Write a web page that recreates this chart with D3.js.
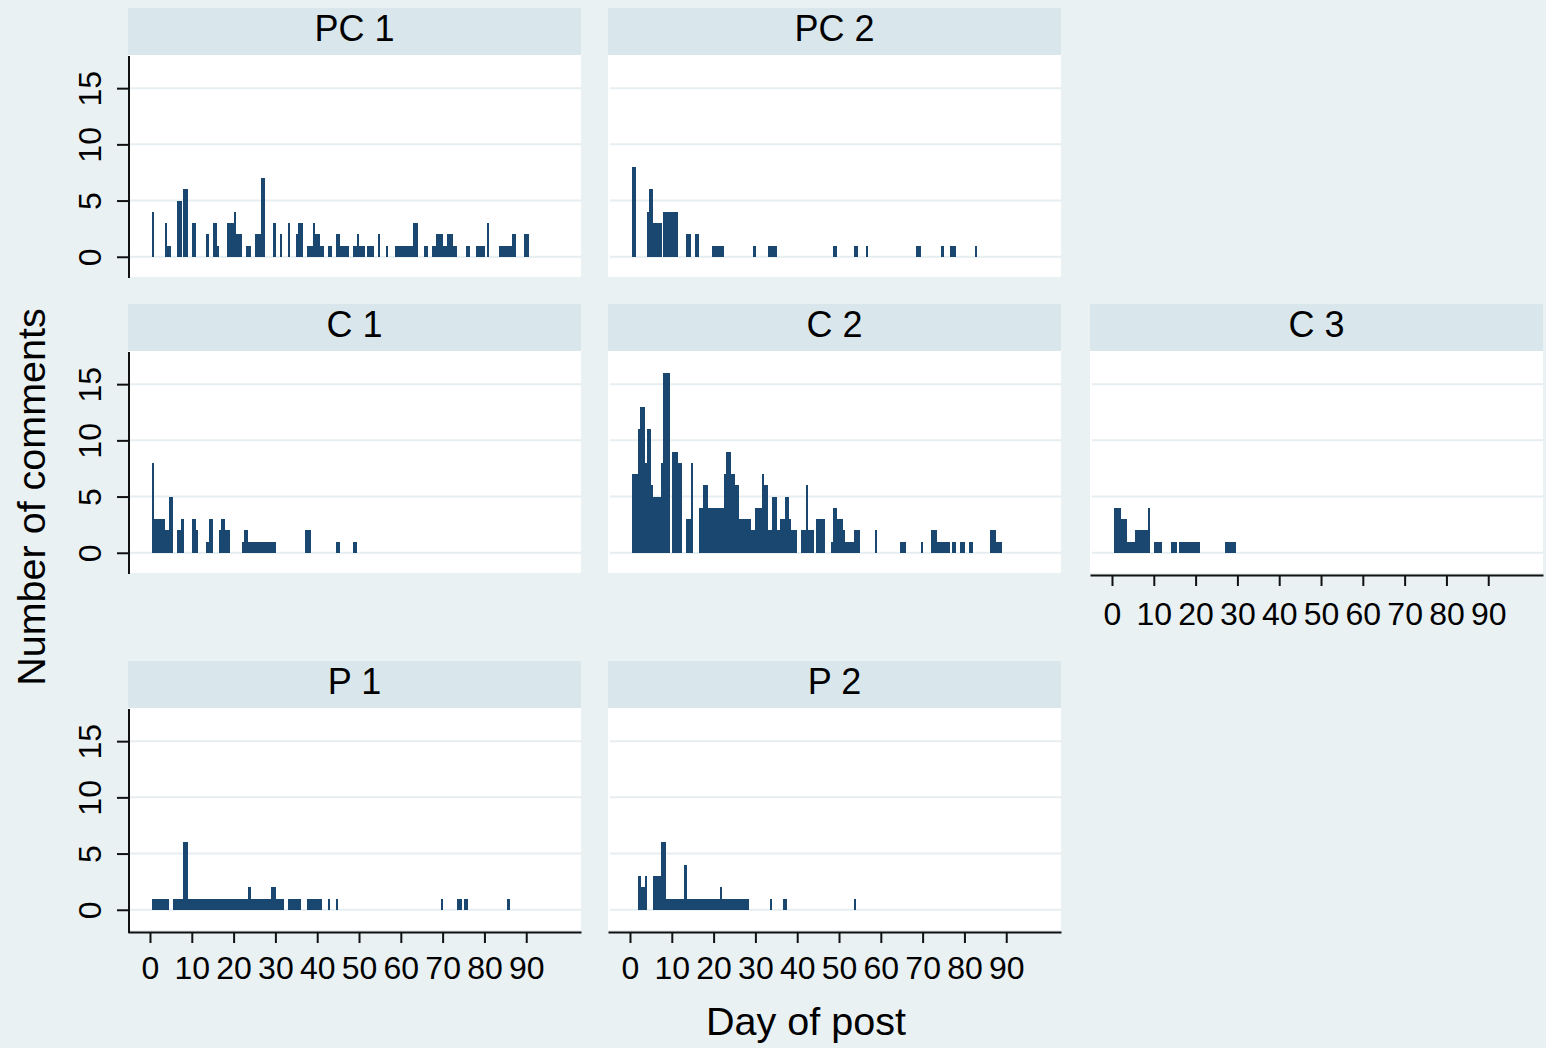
<!DOCTYPE html>
<html><head><meta charset="utf-8">
<script src="https://cdn.jsdelivr.net/npm/d3@7"></script>
<style>
html,body{margin:0;padding:0;background:#E9F1F3;}
svg{display:block;font-family:"Liberation Sans",Arial,sans-serif;}
</style></head><body>
<svg id="chart" width="1546" height="1048"></svg>
<script>
// ---------- data (half-day bins: start day, number of comments) ----------
const panelTitles = ["PC 1", "PC 2", "C 1", "C 2", "C 3", "P 1", "P 2"];
const xTickValues = [0, 10, 20, 30, 40, 50, 60, 70, 80, 90];
const yTickValues = [0, 5, 10, 15];
const xTitle = "Day of post";
const yTitle = "Number of comments";

const pc1Days = [0.5, 3.5, 4, 4.5, 6.5, 7, 8, 8.5, 10, 10.5, 13.5, 15, 15.5, 16,
  18.5, 19, 19.5, 20, 20.5, 21, 21.5, 23, 23.5, 25, 25.5, 26, 26.5, 27, 29.5, 31, 33,
  35, 35.5, 36, 37.5, 38, 38.5, 39, 39.5, 40, 40.5, 41, 42.5, 43, 44.5, 45, 45.5, 46, 46.5, 47,
  48.5, 49, 49.5, 50, 50.5, 51, 52, 52.5, 53, 54.5, 56.5,
  58.5, 59, 59.5, 60, 60.5, 61, 61.5, 62, 62.5, 63, 63.5, 65.5, 66,
  67.5, 68, 68.5, 69, 69.5, 70, 70.5, 71, 71.5, 72, 72.5, 73, 75.5, 76,
  78, 78.5, 79, 79.5, 80.5, 83.5, 84, 84.5, 85, 85.5, 86, 86.5, 87, 89.5, 90];
const pc1Counts = [4, 3, 1, 1, 5, 5, 6, 6, 3, 3, 2, 3, 3, 1,
  3, 3, 3, 4, 2, 2, 2, 1, 1, 2, 2, 2, 7, 7, 3, 2, 3,
  2, 3, 3, 1, 1, 1, 3, 2, 2, 1, 1, 1, 1, 2, 2, 1, 1, 1, 1,
  1, 1, 2, 1, 1, 1, 1, 1, 1, 2, 1,
  1, 1, 1, 1, 1, 1, 1, 1, 1, 3, 3, 1, 1,
  1, 1, 2, 2, 2, 1, 1, 2, 2, 2, 1, 1, 1, 1,
  1, 1, 1, 1, 3, 1, 1, 1, 1, 1, 1, 2, 2, 2, 2];

const pc2Days = [0.5, 1, 4, 4.5, 5, 5.5, 6, 6.5, 7, 8, 8.5, 9, 9.5, 10, 10.5, 11,
  13.5, 14, 15.5, 16, 19.5, 20, 20.5, 21, 21.5, 22, 29.5, 33, 33.5, 34, 34.5,
  48.5, 49, 53.5, 54, 56.5, 68.5, 69, 74.5, 76.5, 77, 77.5, 82.5];
const pc2Counts = [8, 8, 4, 6, 6, 3, 3, 3, 3, 4, 4, 4, 4, 4, 4, 4,
  2, 2, 2, 2, 1, 1, 1, 1, 1, 1, 1, 1, 1, 1, 1,
  1, 1, 1, 1, 1, 1, 1, 1, 1, 1, 1, 1];

const c1Days = [0.5, 1, 1.5, 2, 2.5, 3, 3.5, 4, 4.5, 5, 6.5, 7, 7.5, 10, 10.5, 11,
  13.5, 14, 14.5, 16.5, 17, 17.5, 18, 18.5, 22, 22.5, 23,
  23.5, 24, 24.5, 25, 25.5, 26, 26.5, 27, 27.5, 28, 28.5, 29, 29.5,
  37, 37.5, 38, 44.5, 45, 48.5, 49];
const c1Counts = [8, 3, 3, 3, 3, 3, 2, 2, 5, 5, 2, 2, 3, 3, 3, 2,
  1, 3, 3, 2, 3, 3, 2, 2, 1, 2, 2,
  1, 1, 1, 1, 1, 1, 1, 1, 1, 1, 1, 1, 1,
  2, 2, 2, 1, 1, 1, 1];

const c2Days = [0.5, 1, 1.5, 2, 2.5, 3, 3.5, 4, 4.5, 5, 5.5, 6, 6.5, 7, 7.5, 8, 8.5, 9,
  10, 10.5, 11, 11.5, 12, 13.5, 14, 14.5, 16.5, 17, 17.5, 18,
  18.5, 19, 19.5, 20, 20.5, 21, 21.5, 22, 22.5, 23, 23.5, 24, 24.5, 25, 25.5,
  26, 26.5, 27, 27.5, 28, 28.5, 29, 29.5, 30, 30.5, 31, 31.5, 32, 32.5,
  33, 33.5, 34, 34.5, 35, 35.5, 36, 36.5, 37, 37.5, 38, 38.5, 39, 39.5,
  41, 41.5, 42, 42.5, 43, 43.5, 44.5, 45, 45.5, 46, 48, 48.5, 49, 49.5, 50, 50.5, 51,
  51.5, 52, 52.5, 53, 53.5, 54, 54.5, 58.5, 64.5, 65, 65.5, 69.5,
  72, 72.5, 73, 73.5, 74, 74.5, 75, 75.5, 76, 77, 77.5, 79, 79.5, 81, 81.5,
  86, 86.5, 87, 87.5, 88, 88.5];
const c2Counts = [7, 7, 7, 11, 13, 13, 8, 11, 11, 6, 5, 5, 5, 5, 8, 16, 16, 16,
  9, 9, 9, 8, 8, 3, 3, 8, 4, 4, 6, 6,
  4, 4, 4, 4, 4, 4, 4, 4, 7, 9, 9, 7, 7, 6, 6,
  3, 3, 3, 3, 3, 3, 2, 2, 4, 4, 4, 7, 6, 6,
  2, 2, 5, 5, 2, 2, 3, 3, 5, 5, 3, 2, 2, 2,
  2, 2, 6, 2, 2, 2, 3, 3, 3, 3, 1, 4, 4, 3, 3, 3, 2,
  1, 1, 1, 1, 2, 2, 2, 2, 1, 1, 1, 1,
  2, 2, 2, 1, 1, 1, 1, 1, 1, 1, 1, 1, 1, 1, 1,
  2, 2, 2, 1, 1, 1];

const c3Days = [0.5, 1, 1.5, 2, 2.5, 3, 3.5, 4, 4.5, 5, 5.5, 6, 6.5, 7, 7.5, 8, 8.5,
  10, 10.5, 11, 11.5, 14, 14.5, 15, 16, 16.5, 17, 17.5, 18, 18.5, 19, 19.5, 20, 20.5,
  27, 27.5, 28, 28.5, 29];
const c3Counts = [4, 4, 4, 3, 3, 3, 1, 1, 1, 1, 2, 2, 2, 2, 2, 2, 4,
  1, 1, 1, 1, 1, 1, 1, 1, 1, 1, 1, 1, 1, 1, 1, 1, 1,
  1, 1, 1, 1, 1];

const p1Days = [0.5, 1, 1.5, 2, 2.5, 3, 3.5, 4, 5.5, 6, 6.5, 7, 7.5, 8, 8.5,
  9, 9.5, 10, 10.5, 11, 11.5, 12, 12.5, 13, 13.5, 14, 14.5, 15, 15.5, 16, 16.5,
  17, 17.5, 18, 18.5, 19, 19.5, 20, 20.5, 21, 21.5, 22, 22.5, 23, 23.5,
  24, 24.5, 25, 25.5, 26, 26.5, 27, 27.5, 28, 28.5, 29, 29.5, 30, 30.5, 31, 31.5,
  33, 33.5, 34, 34.5, 35, 35.5, 37.5, 38, 38.5, 39, 39.5, 40, 40.5, 42.5, 44.5,
  69.5, 73.5, 74, 75, 75.5, 85.5];
const p1Counts = [1, 1, 1, 1, 1, 1, 1, 1, 1, 1, 1, 1, 1, 6, 6,
  1, 1, 1, 1, 1, 1, 1, 1, 1, 1, 1, 1, 1, 1, 1, 1,
  1, 1, 1, 1, 1, 1, 1, 1, 1, 1, 1, 1, 1, 2,
  1, 1, 1, 1, 1, 1, 1, 1, 1, 1, 2, 2, 1, 1, 1, 1,
  1, 1, 1, 1, 1, 1, 1, 1, 1, 1, 1, 1, 1, 1, 1,
  1, 1, 1, 1, 1, 1];

const p2Days = [2, 2.5, 3, 3.5, 5.5, 6, 6.5, 7, 7.5, 8, 8.5, 9, 9.5, 10, 10.5, 11, 11.5, 12, 12.5,
  13, 13.5, 14, 14.5, 15, 15.5, 16, 16.5, 17, 17.5, 18, 18.5, 19, 19.5, 20, 20.5, 21,
  21.5, 22, 22.5, 23, 23.5, 24, 24.5, 25, 25.5, 26, 26.5, 27, 27.5, 28,
  33.5, 36.5, 37, 53.5];
const p2Counts = [3, 2, 2, 3, 3, 3, 3, 3, 6, 6, 1, 1, 1, 1, 1, 1, 1, 1, 1,
  4, 1, 1, 1, 1, 1, 1, 1, 1, 1, 1, 1, 1, 1, 1, 1, 1,
  2, 1, 1, 1, 1, 1, 1, 1, 1, 1, 1, 1, 1, 1,
  1, 1, 1, 1];

// ---------- layout ----------
const W = 1546, H = 1048;
const colX = [128, 608, 1090];
const stripTop = [8, 304, 661];
const xLabelPad = [13, 16, 13];
const panelW = 453, stripH = 47, plotH = 222;
const binWidth = 0.5;
const colors = { bar: "#1A476F", strip: "#D9E6EC", plot: "#FFFFFF", grid: "#E6EEF1", axis: "#111111", text: "#000000", bg: "#E9F1F3" };

const panels = [
  { title: panelTitles[0], days: pc1Days, counts: pc1Counts, col: 0, row: 0, yAxis: true, xAxis: false },
  { title: panelTitles[1], days: pc2Days, counts: pc2Counts, col: 1, row: 0, yAxis: false, xAxis: false },
  { title: panelTitles[2], days: c1Days, counts: c1Counts, col: 0, row: 1, yAxis: true, xAxis: false },
  { title: panelTitles[3], days: c2Days, counts: c2Counts, col: 1, row: 1, yAxis: false, xAxis: false },
  { title: panelTitles[4], days: c3Days, counts: c3Counts, col: 2, row: 1, yAxis: false, xAxis: true },
  { title: panelTitles[5], days: p1Days, counts: p1Counts, col: 0, row: 2, yAxis: true, xAxis: true },
  { title: panelTitles[6], days: p2Days, counts: p2Counts, col: 1, row: 2, yAxis: false, xAxis: true }
];

const svg = d3.select("#chart");
svg.append("rect").attr("width", W).attr("height", H).attr("fill", colors.bg);

panels.forEach(p => {
  const x0 = colX[p.col];
  const sTop = stripTop[p.row];
  const pTop = sTop + stripH;
  const pBot = pTop + plotH;
  const x = d3.scaleLinear().domain([-5.26, 103.1]).range([x0, x0 + panelW]);
  const y = d3.scaleLinear().domain([-1.8, 17.95]).range([pBot, pTop]);

  // strip
  svg.append("rect").attr("x", x0).attr("y", sTop).attr("width", panelW).attr("height", stripH).attr("fill", colors.strip);
  svg.append("text").attr("x", x0 + panelW / 2).attr("y", sTop + 33).attr("text-anchor", "middle")
    .attr("font-size", 36).attr("fill", colors.text).text(p.title);

  // plot region
  svg.append("rect").attr("x", x0).attr("y", pTop).attr("width", panelW).attr("height", plotH).attr("fill", colors.plot);

  // grid
  svg.append("g").selectAll("line").data(yTickValues).join("line")
    .attr("x1", x0 + 2).attr("x2", x0 + panelW).attr("y1", d => y(d)).attr("y2", d => y(d))
    .attr("stroke", colors.grid).attr("stroke-width", 2);

  // bars
  const data = p.days.map((d, i) => ({ day: d, n: p.counts[i] }));
  svg.append("g").attr("shape-rendering", "crispEdges").selectAll("rect").data(data).join("rect")
    .attr("x", d => x(d.day)).attr("width", d => x(d.day + binWidth) - x(d.day) + 0.2)
    .attr("y", d => y(d.n)).attr("height", d => y(0) - y(d.n))
    .attr("fill", colors.bar);

  // x axis
  if (p.xAxis) {
    const gx = svg.append("g").attr("transform", `translate(0,${pBot + 2})`)
      .call(d3.axisBottom(x).tickValues(xTickValues).tickSize(11).tickSizeOuter(0).tickPadding(xLabelPad[p.row]));
    gx.select(".domain").attr("stroke", colors.axis).attr("stroke-width", 2);
    gx.selectAll(".tick line").attr("stroke", colors.axis).attr("stroke-width", 2);
    gx.selectAll(".tick text").attr("font-size", 32).attr("fill", colors.text).attr("font-family", "Liberation Sans, Arial, sans-serif");
  }

  // y axis
  if (p.yAxis) {
    const gy = svg.append("g").attr("transform", `translate(${x0 + 1},0)`)
      .call(d3.axisLeft(y).tickValues(yTickValues).tickSize(12).tickSizeOuter(0));
    gy.select(".domain").remove();
    gy.append("line").attr("x1", 0).attr("x2", 0).attr("y1", pTop + 1).attr("y2", p.xAxis ? pBot + 3 : pBot + 1)
      .attr("stroke", colors.axis).attr("stroke-width", 2);
    gy.selectAll(".tick line").attr("stroke", colors.axis).attr("stroke-width", 2);
    gy.selectAll(".tick text").attr("x", 0).attr("y", 0).attr("dy", null)
      .attr("text-anchor", "middle").attr("transform", "translate(-28,0) rotate(-90)")
      .attr("font-size", 32).attr("fill", colors.text).attr("font-family", "Liberation Sans, Arial, sans-serif");
  }
});

// axis titles
svg.append("text").attr("transform", "translate(45,497) rotate(-90)").attr("text-anchor", "middle")
  .attr("font-size", 39.5).attr("fill", colors.text).text(yTitle);
svg.append("text").attr("x", 806).attr("y", 1035).attr("text-anchor", "middle")
  .attr("font-size", 39.5).attr("fill", colors.text).text(xTitle);
</script>
</body></html>
